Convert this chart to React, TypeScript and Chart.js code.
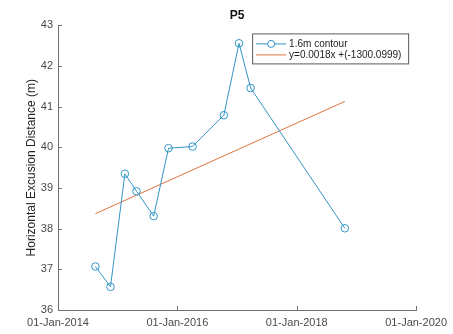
import React, { useEffect, useRef } from "react";
import { Chart, registerables } from "chart.js";

Chart.register(...registerables);

const TITLE = "P5";
const Y_TITLE = "Horizontal Excusion Distance (m)";
const SERIES_LABEL = "1.6m contour";
const TREND_LABEL = "y=0.0018x +(-1300.0999)";

const DATES = [
  "2014-08-18",
  "2014-11-18",
  "2015-02-14",
  "2015-04-26",
  "2015-08-09",
  "2015-11-08",
  "2016-04-03",
  "2016-10-12",
  "2017-01-13",
  "2017-03-25",
  "2018-10-22",
];
const VALUES = [37.07, 36.57, 39.35, 38.92, 38.31, 39.98, 40.02, 40.79, 42.56, 41.46, 38.01];

const TREND_DATES = ["2014-08-18", "2018-10-22"];
const TREND_VALUES = [38.37, 41.13];

const X_TICK_YEARS = [2014, 2016, 2018, 2020];
const Y_MIN = 36;
const Y_MAX = 43;

const BLUE = "#3195c6";
const ORANGE = "#e0743f";
const AXIS = "#707070";
const TEXT = "#4a4a4a";
const FONT = "'Liberation Sans', Arial, sans-serif";

function toYear(s: string): number {
  const [y, m, d] = s.split("-").map(Number);
  const start = Date.UTC(y, 0, 1);
  const end = Date.UTC(y + 1, 0, 1);
  return y + (Date.UTC(y, m - 1, d) - start) / (end - start);
}

const inwardTicks = {
  id: "inwardTicks",
  afterDraw(chart: any) {
    const ctx = chart.ctx;
    const xs = chart.scales.x;
    const ys = chart.scales.y;
    const area = chart.chartArea;
    ctx.save();
    ctx.strokeStyle = AXIS;
    ctx.lineWidth = 1;
    ctx.beginPath();
    xs.ticks.forEach((t: any) => {
      const px = Math.round(xs.getPixelForValue(t.value)) + 0.5;
      ctx.moveTo(px, area.bottom);
      ctx.lineTo(px, area.bottom - 4);
    });
    ys.ticks.forEach((t: any) => {
      const py = Math.round(ys.getPixelForValue(t.value)) + 0.5;
      ctx.moveTo(area.left, py);
      ctx.lineTo(area.left + 4, py);
    });
    ctx.stroke();
    ctx.restore();
  },
};

const boxLegend = {
  id: "boxLegend",
  afterDraw(chart: any) {
    const ctx = chart.ctx;
    const area = chart.chartArea;
    const right = area.right - 8;
    const left = right - 156;
    const top = area.top + 8;
    const h = 30;
    ctx.save();
    ctx.fillStyle = "#ffffff";
    ctx.fillRect(left, top, right - left, h);
    ctx.strokeStyle = "#5a5a5a";
    ctx.lineWidth = 1;
    ctx.strokeRect(left + 0.5, top + 0.5, right - left, h);
    const rows = chart.data.datasets.map((ds: any, i: number) => ({
      label: ds.label,
      color: ds.borderColor,
      marker: ds.pointRadius > 0,
      y: top + 10.5 + i * 11,
    }));
    ctx.font = `10px ${FONT}`;
    ctx.textBaseline = "middle";
    rows.forEach((r: any) => {
      ctx.strokeStyle = r.color;
      ctx.beginPath();
      ctx.moveTo(left + 4, r.y);
      ctx.lineTo(left + 34, r.y);
      ctx.stroke();
      if (r.marker) {
        ctx.fillStyle = "#fff";
        ctx.beginPath();
        ctx.arc(left + 19, r.y, 3.5, 0, Math.PI * 2);
        ctx.fill();
        ctx.stroke();
      }
      ctx.fillStyle = "#222";
      ctx.fillText(r.label, left + 37, r.y + 0.5);
    });
    ctx.restore();
  },
};

export default function App() {
  const ref = useRef<HTMLCanvasElement | null>(null);
  useEffect(() => {
    if (!ref.current) return;
    const chart = new Chart(ref.current, {
      type: "line",
      data: {
        datasets: [
          {
            label: SERIES_LABEL,
            data: DATES.map((d, i) => ({ x: toYear(d), y: VALUES[i] })),
            borderColor: BLUE,
            backgroundColor: "rgba(0,0,0,0)",
            borderWidth: 1,
            pointRadius: 3.8,
            pointBorderWidth: 1,
            pointBorderColor: BLUE,
            pointBackgroundColor: "rgba(0,0,0,0)",
            tension: 0,
          },
          {
            label: TREND_LABEL,
            data: TREND_DATES.map((d, i) => ({ x: toYear(d), y: TREND_VALUES[i] })),
            borderColor: ORANGE,
            backgroundColor: "rgba(0,0,0,0)",
            borderWidth: 1,
            pointRadius: 0,
            tension: 0,
          },
        ],
      },
      options: {
        animation: false,
        responsive: false,
        layout: { padding: { left: 0, right: 35, top: 0, bottom: 0 } },
        plugins: {
          legend: { display: false },
          tooltip: { enabled: false },
          title: {
            display: true,
            text: TITLE,
            fullSize: false,
            color: "#111",
            font: { family: FONT, size: 12, weight: "bold" },
            padding: { top: 8, bottom: 3 },
          },
        },
        scales: {
          x: {
            type: "linear",
            min: X_TICK_YEARS[0],
            max: X_TICK_YEARS[X_TICK_YEARS.length - 1],
            afterBuildTicks: (scale: any) => {
              scale.ticks = X_TICK_YEARS.map((v) => ({ value: v }));
            },
            afterFit: (scale: any) => {
              scale.height = 24;
            },
            grid: { drawOnChartArea: false, drawTicks: false },
            border: { display: true, color: AXIS },
            ticks: {
              maxRotation: 0,
              autoSkip: false,
              padding: 6,
              color: TEXT,
              font: { family: FONT, size: 11 },
              callback: (v: any) => `01-Jan-${v}`,
            },
          },
          y: {
            type: "linear",
            min: Y_MIN,
            max: Y_MAX,
            afterFit: (scale: any) => {
              scale.width = 58;
            },
            grid: { drawOnChartArea: false, drawTicks: false },
            border: { display: true, color: AXIS },
            ticks: {
              stepSize: 1,
              padding: 5,
              color: TEXT,
              font: { family: FONT, size: 11 },
            },
            title: {
              display: true,
              text: Y_TITLE,
              color: "#222",
              font: { family: FONT, size: 12 },
              padding: { top: 24, bottom: 0 },
            },
          },
        },
      },
      plugins: [inwardTicks, boxLegend],
    });
    return () => chart.destroy();
  }, []);
  return (
    <div style={{ position: "fixed", left: 0, top: 0, width: 453, height: 334, background: "#fff" }}>
      <canvas ref={ref} width={453} height={334} />
    </div>
  );
}
